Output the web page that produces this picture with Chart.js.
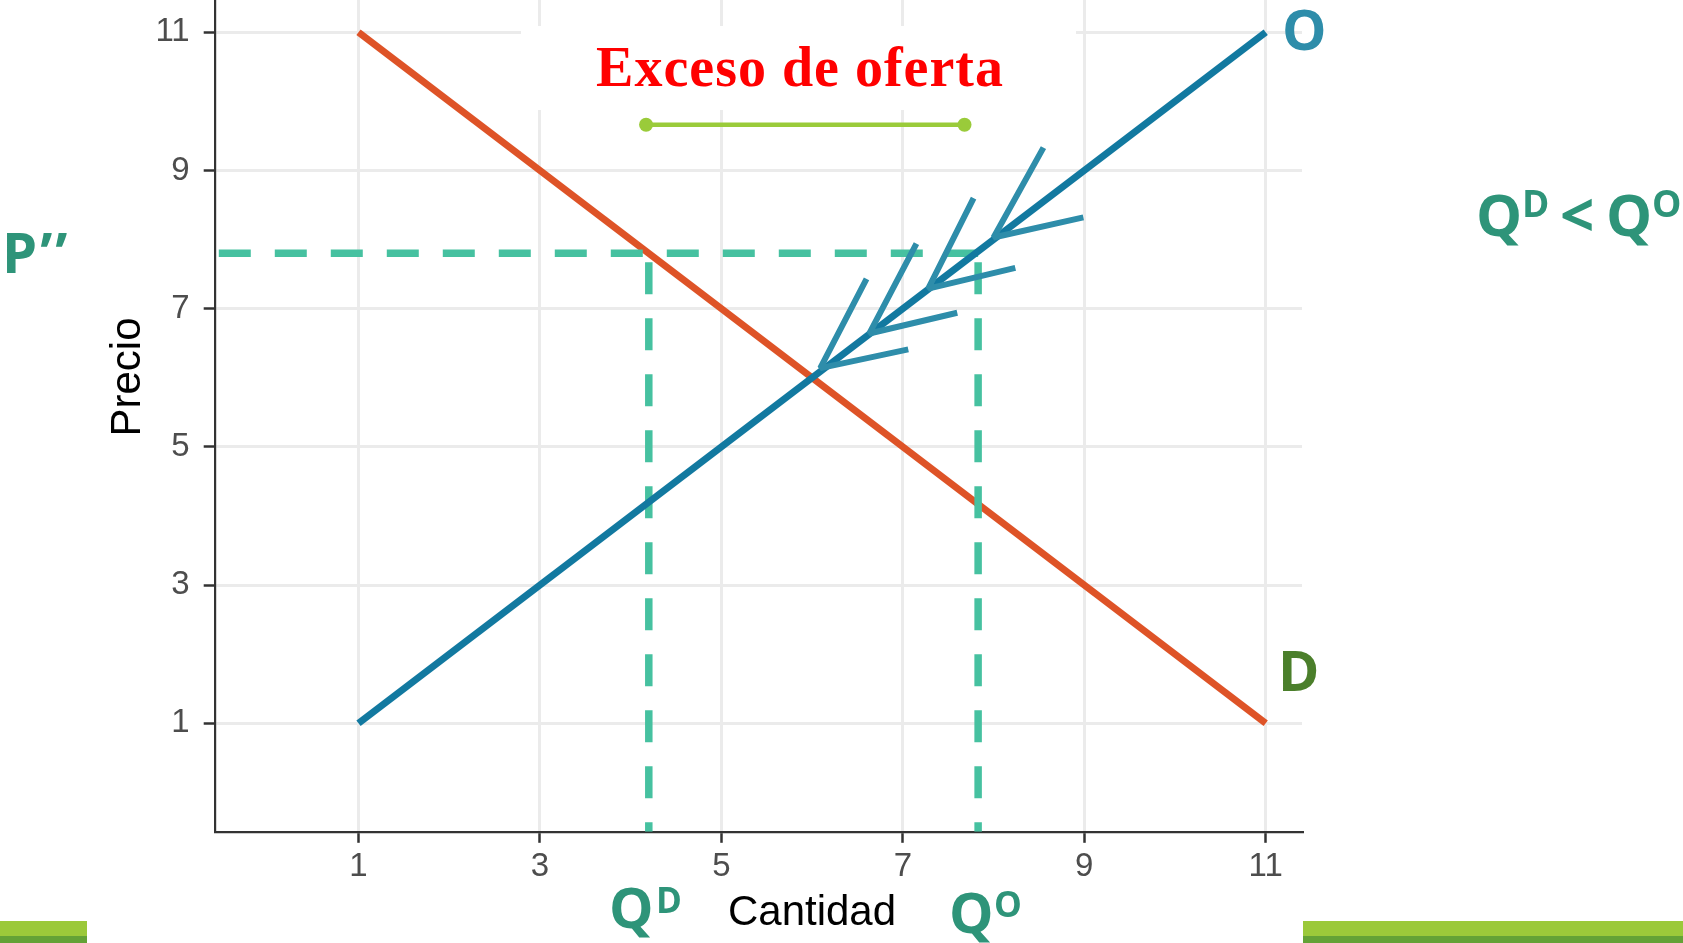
<!DOCTYPE html>
<html lang="es">
<head>
<meta charset="utf-8">
<title>Exceso de oferta</title>
<script src="https://cdn.jsdelivr.net/npm/chart.js@4.4.1/dist/chart.umd.min.js"></script>
<style>
  html, body { margin: 0; padding: 0; background: #fff; }
  #wrap { width: 1683px; height: 943px; }
</style>
</head>
<body>
<div id="wrap"><canvas id="chart" width="1683" height="943"></canvas></div>
<script>
// ---- data ----
const quantityTicks = [1, 3, 5, 7, 9, 11];
const priceTicks = [1, 3, 5, 7, 9, 11];

const demandQ = [1, 11];
const demandP = [11, 1];
const supplyQ = [1, 11];
const supplyP = [1, 11];

const priceP2 = 7.8;   // P''
const qDemand = 4.2;   // Q^D
const qSupply = 7.83;  // Q^O
const dashStartQ = -0.54;

// green bracket under "Exceso de oferta"
const excessQ = [4.17, 7.68];
const excessP = [9.66, 9.66];

// chevrons on the supply curve: tip + two arms
const arrowTipQ = [6.09, 6.63, 7.28, 8.0];
const arrowTipP = [6.14, 6.64, 7.29, 8.03];
const arrowUpQ = [6.6, 7.15, 7.78, 8.55];
const arrowUpP = [7.43, 7.94, 8.6, 9.33];
const arrowLowQ = [7.06, 7.6, 8.24, 8.99];
const arrowLowP = [6.41, 6.94, 7.59, 8.32];

const xRange = [-0.585, 11.4];
const yRange = [-0.57, 11.466];

const pts = (xs, ys) => xs.map((x, i) => ({ x: x, y: ys[i] }));

const lineBase = { showLine: true, pointRadius: 0, fill: false, tension: 0 };

const datasets = [
  { ...lineBase, label: 'Demanda', data: pts(demandQ, demandP), borderColor: '#DE5327', borderWidth: 7, order: 6 },
  { ...lineBase, label: 'Oferta', data: pts(supplyQ, supplyP), borderColor: '#1279A0', borderWidth: 7, order: 4 },
  { ...lineBase, label: "P''", data: [{ x: dashStartQ, y: priceP2 }, { x: qSupply, y: priceP2 }],
    borderColor: '#46C1A0', borderWidth: 7.5, borderDash: [32, 24], order: 5 },
  { ...lineBase, label: 'QD', data: [{ x: qDemand, y: priceP2 }, { x: qDemand, y: yRange[0] }],
    borderColor: '#46C1A0', borderWidth: 7.5, borderDash: [32, 24], borderDashOffset: 47, order: 5 },
  { ...lineBase, label: 'QO', data: [{ x: qSupply, y: priceP2 }, { x: qSupply, y: yRange[0] }],
    borderColor: '#46C1A0', borderWidth: 7.5, borderDash: [32, 24], borderDashOffset: 47, order: 5 },
];

arrowTipQ.forEach((q, i) => {
  datasets.push({
    ...lineBase, label: 'flecha' + i,
    data: [{ x: arrowUpQ[i], y: arrowUpP[i] }, { x: q, y: arrowTipP[i] }, { x: arrowLowQ[i], y: arrowLowP[i] }],
    borderColor: '#2E8DAA', borderWidth: 6, borderJoinStyle: 'bevel', order: 3
  });
});

datasets.push({
  label: 'Exceso', showLine: true, fill: false, data: pts(excessQ, excessP),
  borderColor: '#9ACB3A', borderWidth: 4.5, pointRadius: 7, pointHoverRadius: 7,
  pointBackgroundColor: '#9ACB3A', pointBorderWidth: 0, order: 1
});

// extra drawing: text box, labels, slide bars
function txt(ctx, s, x, y, font, color, align) {
  ctx.font = font;
  ctx.fillStyle = color;
  ctx.textAlign = align || 'left';
  ctx.textBaseline = 'alphabetic';
  ctx.fillText(s, x, y);
}

const decor = {
  id: 'decor',
  beforeDatasetsDraw(chart) {
    const ctx = chart.ctx;
    ctx.save();
    ctx.fillStyle = '#ffffff';
    ctx.fillRect(521, 26, 555, 84);
    ctx.restore();
  },
  afterDraw(chart) {
    const ctx = chart.ctx;
    ctx.save();
    const green = '#2E9479';
    const sans = '"Open Sans", sans-serif';

    // title over the bracket
    ctx.letterSpacing = '1px';
    txt(ctx, 'Exceso de oferta', 800, 86, 'bold 56px "Liberation Serif", serif', '#FF0000', 'center');
    ctx.letterSpacing = '0px';

    // axis titles
    txt(ctx, 'Cantidad', 812, 925, '42px "Liberation Sans", Arial, sans-serif', '#000000', 'center');
    ctx.save();
    ctx.translate(140, 377);
    ctx.rotate(-Math.PI / 2);
    txt(ctx, 'Precio', 0, 0, '42px "Liberation Sans", Arial, sans-serif', '#000000', 'center');
    ctx.restore();

    // curve labels
    txt(ctx, 'O', 1282, 50, 'bold 56px ' + sans, '#2E8DAA');
    txt(ctx, 'D', 1278, 691, 'bold 56px ' + sans, '#4B7F2B');
    ctx.letterSpacing = '3px';
    txt(ctx, 'P’’', 2, 273, 'bold 56px ' + sans, green);
    ctx.letterSpacing = '0px';

    // Q^D < Q^O
    txt(ctx, 'Q', 1476, 236, 'bold 58px ' + sans, green);
    txt(ctx, 'D', 1522, 217, 'bold 37px ' + sans, green);
    txt(ctx, '<', 1560, 237, 'bold 60px ' + sans, green);
    txt(ctx, 'Q', 1606, 236, 'bold 58px ' + sans, green);
    txt(ctx, 'O', 1652, 217, 'bold 37px ' + sans, green);

    // bottom Q labels
    txt(ctx, 'Q', 609, 928, 'bold 56px ' + sans, green);
    txt(ctx, 'D', 656, 913, 'bold 35px ' + sans, green);
    txt(ctx, 'Q', 949, 933, 'bold 56px ' + sans, green);
    txt(ctx, 'O', 994, 917, 'bold 35px ' + sans, green);

    // slide footer bars
    ctx.fillStyle = '#9BC93A';
    ctx.fillRect(0, 921, 87, 15);
    ctx.fillRect(1303, 921, 380, 15);
    ctx.fillStyle = '#63A236';
    ctx.fillRect(0, 936, 87, 7);
    ctx.fillRect(1303, 936, 380, 7);
    ctx.restore();
  }
};

const tickFont = { family: '"Liberation Sans", Arial, sans-serif', size: 33 };

new Chart(document.getElementById('chart'), {
  type: 'scatter',
  data: { datasets: datasets },
  plugins: [decor],
  options: {
    responsive: false,
    animation: false,
    devicePixelRatio: 1,
    layout: { autoPadding: false, padding: { left: 0, right: 381, top: 0, bottom: 0 } },
    plugins: { legend: { display: false }, tooltip: { enabled: false } },
    scales: {
      x: {
        type: 'linear',
        min: xRange[0],
        max: xRange[1],
        afterBuildTicks: (scale) => { scale.ticks = quantityTicks.map(v => ({ value: v })); },
        afterFit: (scale) => { scale.height = 111.2; scale.paddingLeft = 0; scale.paddingRight = 0; },
        ticks: { color: '#4D4D4D', font: tickFont, padding: 4, maxRotation: 0 },
        grid: { color: '#EBEBEB', lineWidth: 3, tickColor: '#333333', tickLength: 11, tickWidth: 2.5 },
        border: { display: true, color: '#333333', width: 2.2 }
      },
      y: {
        type: 'linear',
        min: yRange[0],
        max: yRange[1],
        afterBuildTicks: (scale) => { scale.ticks = priceTicks.map(v => ({ value: v })); },
        afterFit: (scale) => { scale.width = 214.7; scale.paddingTop = 0; scale.paddingBottom = 0; },
        ticks: { color: '#4D4D4D', font: tickFont, padding: 14 },
        grid: { color: '#EBEBEB', lineWidth: 3, tickColor: '#333333', tickLength: 11, tickWidth: 2.5 },
        border: { display: true, color: '#333333', width: 2.2 }
      }
    }
  }
});
</script>
</body>
</html>
